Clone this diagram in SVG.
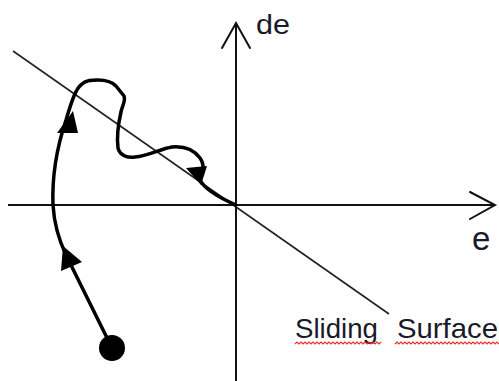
<svg xmlns="http://www.w3.org/2000/svg" width="499" height="381" viewBox="0 0 499 381">
<style>
.axis{stroke:#111;stroke-width:2;fill:none}
.head{stroke:#111;stroke-width:2;fill:none;stroke-linecap:round}
.surf{stroke:#222;stroke-width:1.6;fill:none}
.traj{stroke:#000;stroke-width:3.5;fill:none;stroke-linecap:round;stroke-linejoin:round}
.lbl{font-family:"Liberation Sans",Arial,sans-serif;fill:#1a1a2a}
.wave{stroke:#e8302a;stroke-width:1.2;fill:none}
</style>
<rect width="499" height="381" fill="#fff"/>
<g id="axes">
<line class="axis" x1="236" y1="381" x2="236" y2="23"/>
<polyline class="head" points="222,48 236,23 250,48"/>
<line class="axis" x1="8" y1="205" x2="495" y2="205"/>
<polyline class="head" points="470,192 495,205 470,219"/>
</g>
<g id="sliding-surface">
<line class="surf" x1="13" y1="51" x2="389" y2="314"/>
</g>
<g id="connectors">
<path class="traj" d="M112,348 L66,255 C58,238 54,222 53,205 C52,180 56,150 66,120 C72,100 76,88 82,84 C86,80 92,80 98,80 C106,80 112,82 116,86 L124,96 C126,101 122,106 121,112 C118,125 117,140 118,148 C120,156 128,158 135,157 C148,156 160,149 172,147 C184,146 194,150 200,158 C205,165 203,172 200,180 C205,190 220,198 236,205"/>
<path d="M202,184 C208,192 222,199 236,205" stroke="#000" stroke-width="1.2" fill="none"/>
<polygon points="63,246 61,271 82,262" fill="#000"/>
<polygon points="73,111 57,133 78,133" fill="#000"/>
<polygon points="186,168 207,166 201,185" fill="#000"/>
</g>
<g id="start-point">
<circle cx="112" cy="348" r="13" fill="#000"/>
</g>
<g id="labels">
<text class="lbl" x="256" y="34" font-size="27" textLength="34" lengthAdjust="spacingAndGlyphs">de</text>
<text class="lbl" x="472" y="250" font-size="33">e</text>
<text class="lbl" y="338" font-size="28"><tspan x="295" textLength="83" lengthAdjust="spacingAndGlyphs">Sliding</tspan><tspan x="397" textLength="101" lengthAdjust="spacingAndGlyphs">Surface</tspan></text>
<path class="wave" d="M295,344 l2,-2 l2,2 l2,-2 l2,2 l2,-2 l2,2 l2,-2 l2,2 l2,-2 l2,2 l2,-2 l2,2 l2,-2 l2,2 l2,-2 l2,2 l2,-2 l2,2 l2,-2 l2,2 l2,-2 l2,2 l2,-2 l2,2 l2,-2 l2,2 l2,-2 l2,2 l2,-2 l2,2 l2,-2 l2,2 l2,-2 l2,2 l2,-2 l2,2 l2,-2 l2,2 l2,-2 l2,2 l2,-2 l2,2 l2,-2"/>
<path class="wave" d="M395,344 l2,-2 l2,2 l2,-2 l2,2 l2,-2 l2,2 l2,-2 l2,2 l2,-2 l2,2 l2,-2 l2,2 l2,-2 l2,2 l2,-2 l2,2 l2,-2 l2,2 l2,-2 l2,2 l2,-2 l2,2 l2,-2 l2,2 l2,-2 l2,2 l2,-2 l2,2 l2,-2 l2,2 l2,-2 l2,2 l2,-2 l2,2 l2,-2 l2,2 l2,-2 l2,2 l2,-2 l2,2 l2,-2 l2,2 l2,-2 l2,2 l2,-2 l2,2 l2,-2 l2,2 l2,-2 l2,2 l2,-2 l2,2"/>
</g>
</svg>
